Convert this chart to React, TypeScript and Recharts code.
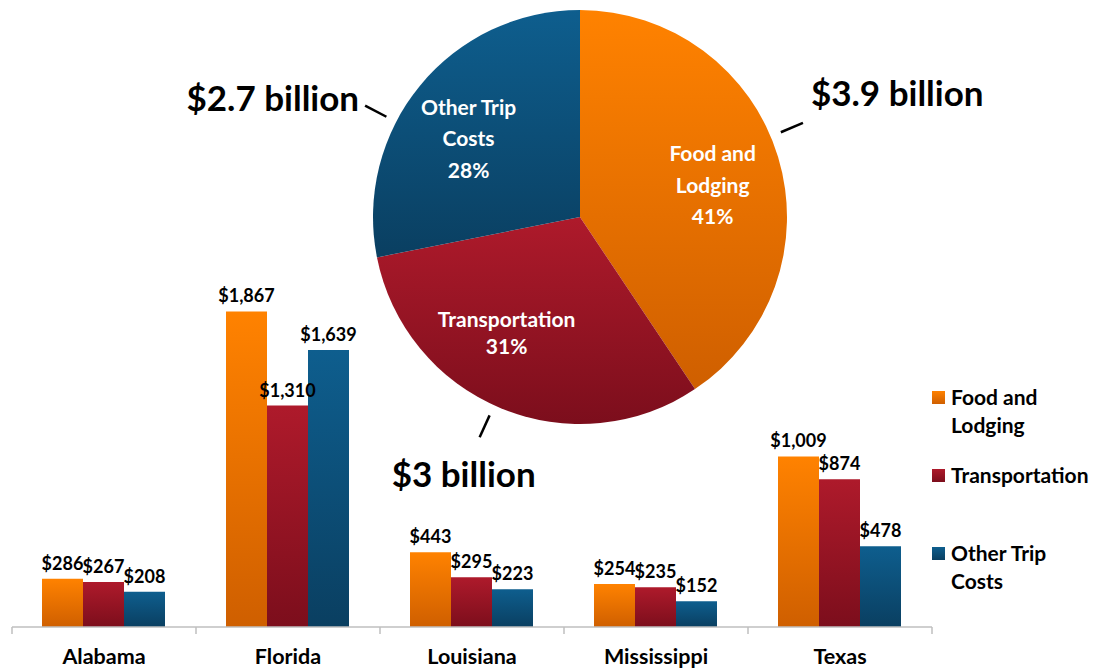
import React from 'react';
import { BarChart, Bar, XAxis, YAxis, LabelList, PieChart, Pie, Cell } from 'recharts';

// Bar chart data: trip spending by state
const states = ['Alabama', 'Florida', 'Louisiana', 'Mississippi', 'Texas'];
const foodAndLodging = [286, 1867, 443, 254, 1009];
const transportation = [267, 1310, 295, 235, 874];
const otherTripCosts = [208, 1639, 223, 152, 478];

// Pie data: totals in billions
const pieCategories = ['Food and Lodging', 'Transportation', 'Other Trip Costs'];
const pieBillions = [3.9, 3, 2.7];

const seriesNames = ['Food and Lodging', 'Transportation', 'Other Trip Costs'];

const barData = states.map((state, i) => ({
  state,
  food: foodAndLodging[i],
  transport: transportation[i],
  other: otherTripCosts[i],
}));

const pieData = pieCategories.map((name, i) => ({ name, value: pieBillions[i] }));

const W = 1104;
const H = 671;
const FONT = 'Lato, "Open Sans", sans-serif';
const MARGIN = { top: 289, right: 172, bottom: 0, left: 12 };
const BAND = (W - MARGIN.left - MARGIN.right) / states.length;

const GRADS = [
  { id: 'gFood', top: '#FF8200', bottom: '#CF5F00' },
  { id: 'gTrans', top: '#AE1A2B', bottom: '#7C0E1C' },
  { id: 'gOther', top: '#0E5E8E', bottom: '#0A3F61' },
];

const money = (v: any) => `$${Number(v).toLocaleString('en-US')}`;

// split "Food and Lodging" -> ["Food and", "Lodging"]
const wrap = (s: string) => {
  const w = s.split(' ');
  return w.length > 2 ? [w.slice(0, 2).join(' '), w.slice(2).join(' ')] : [s];
};

const CategoryTick = (props: any) => {
  const { x, y, payload, index } = props;
  const half = BAND / 2;
  return (
    <g>
      <line x1={x - half} y1={y} x2={x - half} y2={y + 7} stroke="#BFBFBF" strokeWidth={1.5} />
      {index === states.length - 1 && (
        <line x1={x + half} y1={y} x2={x + half} y2={y + 7} stroke="#BFBFBF" strokeWidth={1.5} />
      )}
      <text x={x} y={y + 37} textAnchor="middle" fontFamily={FONT} fontWeight={700} fontSize={21.5} fill="#000">
        {payload.value}
      </text>
    </g>
  );
};

const RAD = Math.PI / 180;
// small angle tweaks so labels sit where they were placed in the original
const calloutNudge = [6, -2, 12];
const innerNudge = [-3, -10, 4];

const renderPieLabel = (props: any) => {
  const { cx, cy, midAngle, outerRadius, percent, name, value, index } = props;
  const lines = [...wrap(name), `${Math.round(percent * 100)}%`];
  const rIn = outerRadius * 0.66;
  const ia = (midAngle + innerNudge[index]) * RAD;
  const ix = cx + rIn * Math.cos(-ia);
  const iy = cy + rIn * Math.sin(-ia);
  const lh = lines.length > 2 ? 31.5 : 27;
  const startY = iy - ((lines.length - 1) * lh) / 2;

  const a = (midAngle + calloutNudge[index]) * RAD;
  const x1 = cx + (outerRadius + 11) * Math.cos(-a);
  const y1 = cy + (outerRadius + 11) * Math.sin(-a);
  const x2 = cx + (outerRadius + 35) * Math.cos(-a);
  const y2 = cy + (outerRadius + 35) * Math.sin(-a);

  let tx = x2;
  let ty = y2;
  let anchor: 'start' | 'end' | 'middle' = 'middle';
  if (Math.sin(a) < -0.7) {
    tx = x2 - 16;
    ty = y2 + 36;
  } else if (Math.cos(a) > 0) {
    anchor = 'start';
    tx = x2 + 8;
    ty = y2 - 31;
  } else {
    anchor = 'end';
    tx = x2 - 6;
    ty = y2 - 9;
  }

  return (
    <g>
      {lines.map((l, i) => (
        <text
          key={i}
          x={ix}
          y={startY + i * lh}
          textAnchor="middle"
          dominantBaseline="central"
          fontFamily={FONT}
          fontWeight={700}
          fontSize={21}
          fill="#fff"
        >
          {l}
        </text>
      ))}
      <line x1={x1} y1={y1} x2={x2} y2={y2} stroke="#000" strokeWidth={2.5} />
      <text
        x={tx}
        y={ty}
        textAnchor={anchor}
        dominantBaseline="central"
        fontFamily={FONT}
        fontWeight={700}
        fontSize={35}
        fill="#000"
      >
        {`$${value} billion`}
      </text>
    </g>
  );
};

const Defs = () => (
  <defs>
    {GRADS.map((g) => (
      <linearGradient key={g.id} id={g.id} x1="0" y1="0" x2="0" y2="1">
        <stop offset="0%" stopColor={g.top} />
        <stop offset="100%" stopColor={g.bottom} />
      </linearGradient>
    ))}
  </defs>
);

const labelStyle = { fontFamily: FONT, fontWeight: 700, fontSize: 18, fill: '#000' };

export default function App() {
  const keys = ['food', 'transport', 'other'];
  return (
    <div style={{ position: 'absolute', left: 0, top: 0, width: W, height: H, background: '#fff', overflow: 'hidden' }}>
      <div style={{ position: 'absolute', left: 0, top: 0 }}>
        <BarChart width={W} height={H} data={barData} margin={MARGIN} barGap={0} barCategoryGap={30}>
          <Defs />
          <XAxis
            dataKey="state"
            axisLine={{ stroke: '#BFBFBF', strokeWidth: 1.5 }}
            tickLine={false}
            tickSize={0}
            tickMargin={0}
            height={44}
            interval={0}
            tick={CategoryTick}
          />
          <YAxis hide domain={[0, 2000]} />
          {keys.map((k, i) => (
            <Bar key={k} dataKey={k} name={seriesNames[i]} fill={`url(#${GRADS[i].id})`} isAnimationActive={false}>
              <LabelList dataKey={k} position="top" offset={9} formatter={money} style={labelStyle} />
            </Bar>
          ))}
        </BarChart>
      </div>

      <div style={{ position: 'absolute', left: 0, top: 0, pointerEvents: 'none' }}>
        <PieChart width={W} height={H} margin={{ top: 0, right: 0, bottom: 0, left: 0 }}>
          <Defs />
          <Pie
            data={pieData}
            dataKey="value"
            nameKey="name"
            cx={580}
            cy={217}
            outerRadius={207}
            startAngle={90}
            endAngle={-270}
            stroke="none"
            label={renderPieLabel}
            labelLine={false}
            isAnimationActive={false}
          >
            {pieData.map((d, i) => (
              <Cell key={d.name} fill={`url(#${GRADS[i].id})`} />
            ))}
          </Pie>
        </PieChart>
      </div>

      {/* legend */}
      <div style={{ position: 'absolute', left: 932, top: 383, fontFamily: FONT, fontWeight: 700, fontSize: 21, color: '#000' }}>
        {seriesNames.map((n, i) => (
          <div key={n} style={{ height: 78, display: 'flex', alignItems: 'flex-start' }}>
            <div
              style={{
                width: 13,
                height: 13,
                marginTop: 8,
                marginRight: 6,
                background: `linear-gradient(${GRADS[i].top}, ${GRADS[i].bottom})`,
              }}
            />
            <div style={{ lineHeight: '28px' }}>
              {wrap(n).map((l) => (
                <div key={l}>{l}</div>
              ))}
            </div>
          </div>
        ))}
      </div>
    </div>
  );
}
